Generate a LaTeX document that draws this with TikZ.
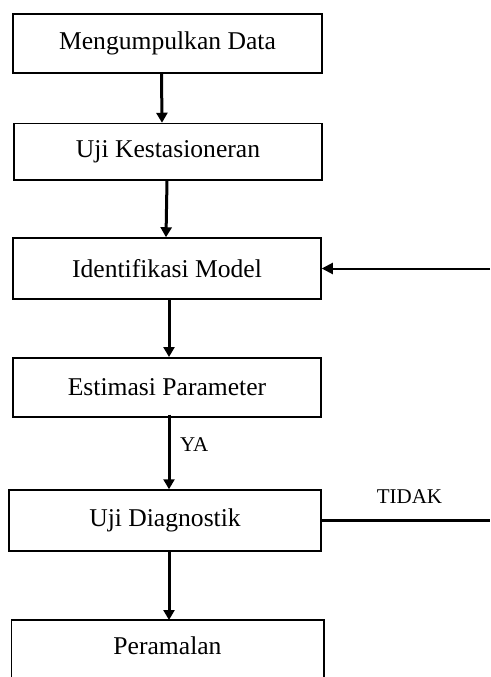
\documentclass[tikz,border=0pt]{standalone}
\usepackage{fontspec}
\setmainfont{Liberation Serif}
\usetikzlibrary{arrows.meta}
\begin{document}
\begin{tikzpicture}[x=1pt,y=-1pt,
  stepbox/.style={draw=black,line width=1.5pt,inner sep=0pt,font=\fontsize{25.6}{30}\selectfont},
  flow/.style={line width=3pt,-{Triangle[length=10pt,width=11pt]}},
  back/.style={line width=2pt,-{Triangle[length=11pt,width=11pt]}},
  lbl/.style={font=\fontsize{21}{24}\selectfont,inner sep=0pt}]
\useasboundingbox[fill=white] (0,0) rectangle (490,677);
\node[stepbox,minimum width=309pt,minimum height=59pt] (b1) at (167.5,43.5) {Mengumpulkan Data};
\node[stepbox,minimum width=308pt,minimum height=56.5pt] (b2) at (168,151.75) {Uji Kestasioneran};
\node[stepbox,minimum width=308pt,minimum height=61pt] (b3) at (167,268.5) {Identifikasi Model};
\node[stepbox,minimum width=308pt,minimum height=59pt] (b4) at (167,387.25) {Estimasi Parameter};
\node[stepbox,minimum width=312pt,minimum height=61pt] (b5) at (165,520.5) {Uji Diagnostik};
\node[stepbox,draw=none,anchor=north,minimum width=311pt,minimum height=50pt] (b6) at (167.5,620) {Peramalan};
\draw[line width=1.5pt] (b6.west |- 0,677) -- (b6.north west) -- (b6.north east) -- (b6.east |- 0,677);
\coordinate (rin) at (490,268.5);
\coordinate (rout) at (490,520.5);
\draw[flow] ([xshift=-6pt]b1.south) -- ([xshift=-6pt]b2.north);
\draw[flow] ([xshift=-1pt]b2.south) -- ([xshift=-1pt]b3.north);
\draw[flow] ([xshift=2pt]b3.south) -- ([xshift=2pt]b4.north);
\draw[flow] ([xshift=2pt,yshift=3pt]b4.south) -- ([xshift=4pt]b5.north);
\draw[flow] ([xshift=4pt]b5.south) -- ([xshift=1.5pt]b6.north);
\draw[back] (rin) -- (b3.east);
\draw[line width=2.5pt] (b5.east) -- (rout);
\node[lbl,anchor=west] (ya) at (180,445) {YA};
\node[lbl] (tidak) at (409.5,497) {TIDAK};
\end{tikzpicture}
\end{document}
